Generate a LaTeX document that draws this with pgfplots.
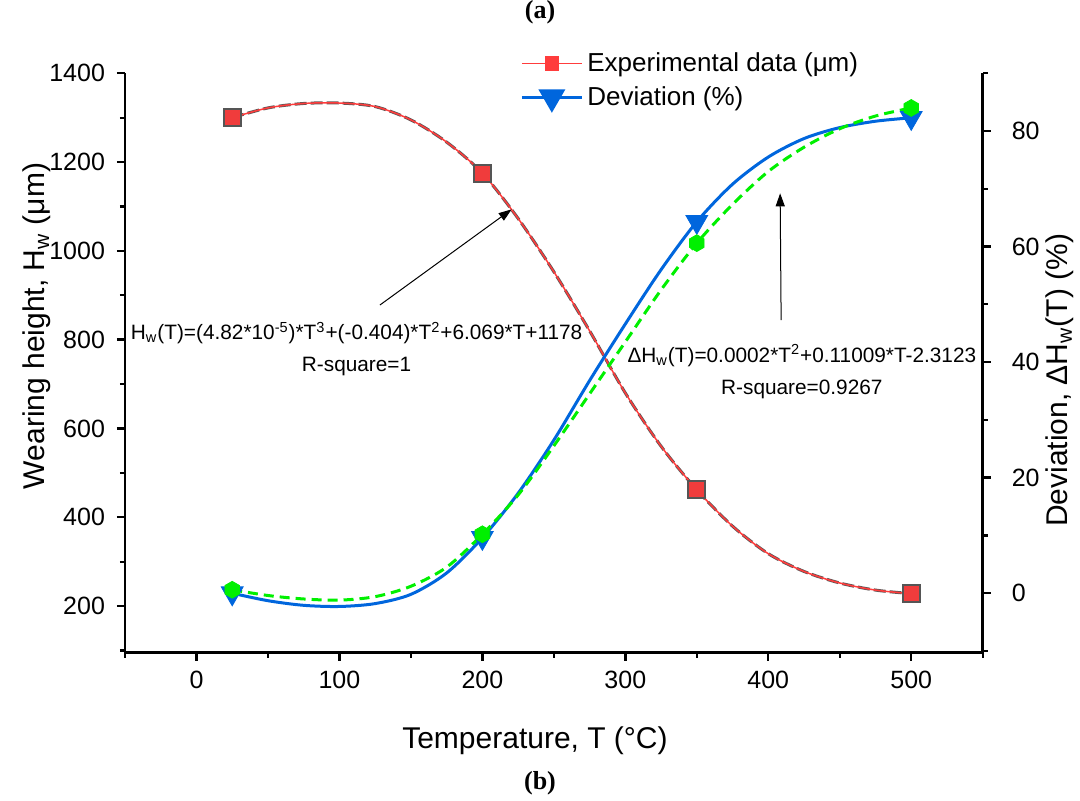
\documentclass[border=0pt]{standalone}
\usepackage{fontspec}
\setmainfont{Liberation Sans}
\newfontfamily\timesfont{Liberation Serif}
\usepackage{pgfplots}
\pgfplotsset{compat=1.18}
\usetikzlibrary{arrows.meta}

\definecolor{expred}{RGB}{255,60,60}
\definecolor{sqred}{RGB}{240,60,60}
\definecolor{sqedge}{RGB}{85,85,85}
\definecolor{devblue}{RGB}{0,102,221}
\definecolor{fitgreen}{RGB}{0,240,0}
\definecolor{fitgray}{RGB}{95,85,85}

\pgfdeclareplotmark{hexagon*}{%
 \pgfpathmoveto{\pgfpointpolar{90}{\pgfplotmarksize}}%
 \pgfpathlineto{\pgfpointpolar{150}{\pgfplotmarksize}}%
 \pgfpathlineto{\pgfpointpolar{210}{\pgfplotmarksize}}%
 \pgfpathlineto{\pgfpointpolar{270}{\pgfplotmarksize}}%
 \pgfpathlineto{\pgfpointpolar{330}{\pgfplotmarksize}}%
 \pgfpathlineto{\pgfpointpolar{30}{\pgfplotmarksize}}%
 \pgfpathclose\pgfusepathqfillstroke}

\pgfplotsset{
 myaxis/.style={
  scale only axis, width=428.85pt, height=289.7pt,
  xmin=-50, xmax=550,
  tick align=outside, major tick length=4pt, minor tick length=2.5pt,
  axis line style={line width=1.3pt},
  major tick style={line width=1.2pt, black},
  minor tick style={line width=1.1pt, black},
  tick label style={font=\fontsize{12.5}{15}\selectfont},
  /pgf/number format/assume math mode=true,
  /pgf/number format/1000 sep={},
  label style={font=\fontsize{15}{18}\selectfont},
  clip=false,
 }
}

\begin{document}
\begin{tikzpicture}
\begin{axis}[myaxis, at={(0,0)}, anchor=south west,
  ymin=95, ymax=1400,
  axis x line*=bottom, axis y line*=left,
  xtick={0,100,...,500}, minor xtick={-50,50,...,550},
  ytick={200,400,...,1400}, minor ytick={100,300,...,1300},
  yticklabel style={xshift=-2.5pt},
  xticklabel style={yshift=-1.5pt},
  xlabel={Temperature, T (°C)},
  ylabel={Wearing height, H\textsubscript{w} (μm)},
  xlabel style={at={(axis description cs:0.478,-0.152)}, anchor=center},
  ylabel style={at={(axis description cs:-0.1026,0.564)}, anchor=center},
]
% fitted curve (dashed) and experimental line
\addplot[fitgray, line width=1.5pt, dash pattern=on 6pt off 2pt, smooth] coordinates {
 (25,1300) (50,1322) (75,1332) (100,1333) (125,1325) (150,1295) (175,1245) (200,1175)
 (225,1073) (250,953) (275,820) (300,680) (325,560) (350,462) (375,380) (400,318)
 (425,278) (450,252) (475,236) (500,228)};
\addplot[expred, line width=0.75pt, smooth] coordinates {
 (25,1300) (50,1322) (75,1332) (100,1333) (125,1325) (150,1295) (175,1245) (200,1175)
 (225,1073) (250,953) (275,820) (300,680) (325,560) (350,462) (375,380) (400,318)
 (425,278) (450,252) (475,236) (500,228)};
\addplot[only marks, mark=square*, mark size=4.2pt, mark options={fill=sqred, draw=sqedge, line width=1pt}]
 coordinates {(25,1300) (200,1175) (350,462) (500,228)};

\draw[line width=0.5pt, -{Triangle[length=6.5pt,width=4.5pt]}] (axis cs:128.3,878) -- (axis cs:220.5,1093.6);
\draw[line width=0.5pt, -{Triangle[length=6.5pt,width=4.5pt]}] (axis cs:409,844) -- (axis cs:408.3,1129.7);
\node[align=center, font=\fontsize{10.4}{16}\selectfont, inner sep=0pt] at (axis cs:112,779)
 {H\textsubscript{w}(T)=(4.82*10\textsuperscript{-5})*T\textsuperscript{3}+(-0.404)*T\textsuperscript{2}+6.069*T+1178\\R-square=1};
\node[align=center, font=\fontsize{10.4}{16}\selectfont, inner sep=0pt] at (axis cs:423.5,728)
 {ΔH\textsubscript{w}(T)=0.0002*T\textsuperscript{2}+0.11009*T-2.3123\\R-square=0.9267};
\end{axis}

\begin{axis}[myaxis, at={(0,0)}, anchor=south west,
  ymin=-10.3, ymax=90,
  axis y line*=right, axis x line=none,
  ytick={0,20,...,80}, minor ytick={-10,10,...,90},
  yticklabel style={xshift=7pt},
  ylabel={Deviation, ΔH\textsubscript{w}(T) (\%)},
  ylabel style={at={(axis description cs:1.090,0.47)}, anchor=center},
  legend image code/.code={\draw[mark repeat=2,mark phase=2,#1] plot coordinates {(0pt,0pt) (15pt,0pt) (30pt,0pt)};},
  legend style={at={(axis description cs:0.4605,0.988)}, anchor=west, draw=none, fill=none,
    inner sep=0pt, font=\fontsize{13}{16}\selectfont, row sep=2pt},
  legend cell align=left,
]
\addlegendimage{expred, line width=0.75pt, mark=square*, mark size=3.3pt, mark options={fill=expred, draw=expred}}
\addlegendentry{Experimental data (μm)}
\addlegendimage{devblue, line width=1.5pt, mark=triangle*, mark size=6.3pt, mark options={fill=devblue, draw=devblue, rotate=180}}
\addlegendentry{Deviation (\%)}

\addplot[devblue, line width=1.5pt, smooth, forget plot] coordinates {
 (25,0) (50,-1.3) (75,-2.1) (100,-2.3) (125,-1.8) (150,-0.2) (175,3.5) (200,9.6)
 (225,17.3) (250,26.5) (275,36.8) (300,46.6) (325,56) (350,64.3) (375,70.8) (400,75.5)
 (425,78.7) (450,80.6) (475,81.7) (500,82.3)};
\addplot[fitgreen, line width=1.5pt, dash pattern=on 5pt off 3pt, smooth, forget plot] coordinates {
 (25,0.6) (50,-0.4) (75,-1.0) (100,-1.2) (125,-0.6) (150,1.2) (175,4.5) (200,10.2)
 (225,17) (250,25.5) (275,34.5) (300,43.5) (325,52.5) (350,60.6) (375,67.3) (400,73)
 (425,77.2) (450,80.4) (475,82.6) (500,84)};
\addplot[only marks, mark=triangle*, mark size=6.3pt, mark options={fill=devblue, draw=devblue, rotate=180}, forget plot]
 coordinates {(25,0) (200,9.6) (350,64.3) (500,82.3)};
\addplot[only marks, mark=hexagon*, mark size=4.2pt, mark options={fill=fitgreen, draw=fitgreen}, forget plot]
 coordinates {(25,0.6) (200,10.2) (350,60.6) (500,84)};
\end{axis}

\node[font=\timesfont\bfseries\fontsize{13}{15}\selectfont] at (207.5pt,320.35pt) {(a)};
\node[font=\timesfont\bfseries\fontsize{13}{15}\selectfont] at (207.5pt,-65.15pt) {(b)};
\pgfresetboundingbox
\path[use as bounding box] (-62.5pt,-74.15pt) rectangle (477.5pt,326.35pt);
\end{tikzpicture}
\end{document}
